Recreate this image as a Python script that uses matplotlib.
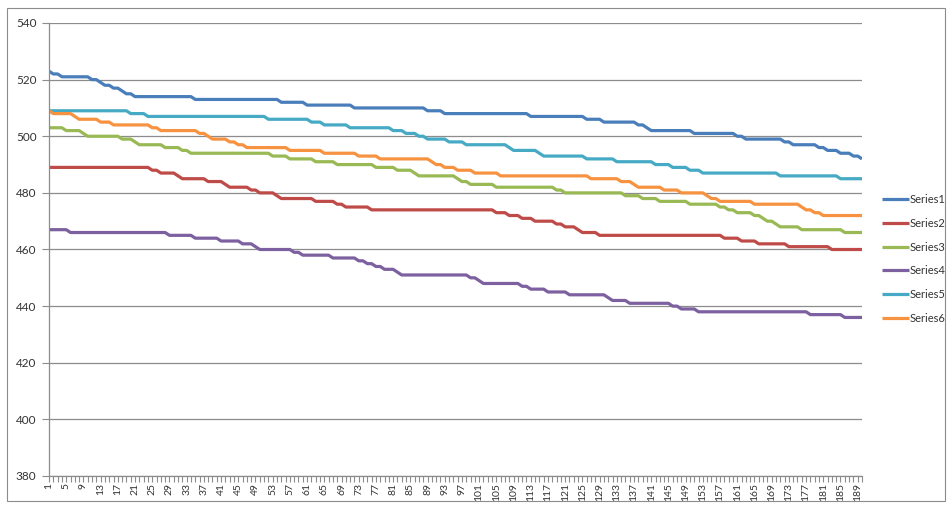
import numpy as np
import matplotlib
matplotlib.use("Agg")
import matplotlib.pyplot as plt

N_POINTS = 190
categories = np.arange(1, N_POINTS + 1)

# each series is stored as runs: the category where a level starts and the level itself
s1_start = [1, 2, 4, 11, 13, 14, 16, 18, 19, 21, 35, 55, 61, 72, 89, 93, 113, 126, 130, 138,
            140, 141, 151, 161, 163, 172, 174, 180, 182, 185, 188, 190]
s1_level = [523, 522, 521, 520, 519, 518, 517, 516, 515, 514, 513, 512, 511, 510, 509, 508, 507,
            506, 505, 504, 503, 502, 501, 500, 499, 498, 497, 496, 495, 494, 493, 492]

s2_start = [1, 25, 27, 31, 32, 38, 42, 43, 48, 50, 54, 55, 63, 68, 70, 76, 105, 108, 111, 114,
            119, 121, 124, 125, 129, 158, 162, 166, 173, 183]
s2_level = [489, 488, 487, 486, 485, 484, 483, 482, 481, 480, 479, 478, 477, 476, 475, 474, 473,
            472, 471, 470, 469, 468, 467, 466, 465, 464, 463, 462, 461, 460]

s3_start = [1, 5, 9, 10, 18, 21, 22, 28, 32, 34, 53, 57, 63, 68, 77, 82, 86, 87, 96, 97, 99, 105,
            119, 121, 135, 139, 143, 150, 157, 159, 161, 165, 167, 168, 170, 171, 176, 186]
s3_level = [503, 502, 501, 500, 499, 498, 497, 496, 495, 494, 493, 492, 491, 490, 489, 488, 487,
            486, 485, 484, 483, 482, 481, 480, 479, 478, 477, 476, 475, 474, 473, 472, 471, 470,
            469, 468, 467, 466]

s4_start = [1, 6, 29, 35, 41, 46, 49, 50, 58, 60, 67, 73, 75, 77, 79, 82, 83, 99, 101, 102, 111,
            113, 117, 122, 131, 132, 136, 146, 148, 152, 178, 186]
s4_level = [467, 466, 465, 464, 463, 462, 461, 460, 459, 458, 457, 456, 455, 454, 453, 452, 451,
            450, 449, 448, 447, 446, 445, 444, 443, 442, 441, 440, 439, 438, 437, 436]

s5_start = [1, 20, 24, 52, 62, 65, 71, 81, 84, 87, 89, 94, 98, 108, 109, 115, 116, 126, 133, 142,
            146, 150, 153, 171, 185]
s5_level = [509, 508, 507, 506, 505, 504, 503, 502, 501, 500, 499, 498, 497, 496, 495, 494, 493,
            492, 491, 490, 489, 488, 487, 486, 485]

s6_start = [1, 2, 7, 8, 13, 16, 25, 27, 36, 38, 39, 43, 45, 47, 57, 65, 73, 78, 90, 91, 93, 96,
            100, 106, 127, 134, 137, 138, 144, 148, 154, 155, 157, 165, 176, 177, 179, 181]
s6_level = [509, 508, 507, 506, 505, 504, 503, 502, 501, 500, 499, 498, 497, 496, 495, 494, 493,
            492, 491, 490, 489, 488, 487, 486, 485, 484, 483, 482, 481, 480, 479, 478, 477, 476,
            475, 474, 473, 472]

series_names = ["Series1", "Series2", "Series3", "Series4", "Series5", "Series6"]
series_colors = ["#4A7EBB", "#BE4B48", "#98B954", "#7D60A0", "#46AAC5", "#F69240"]
y_ticks = [380, 400, 420, 440, 460, 480, 500, 520, 540]


def expand_runs(starts, levels, n=N_POINTS):
    counts = np.diff(list(starts) + [n + 1])
    return np.repeat(levels, counts)


runs = [(s1_start, s1_level), (s2_start, s2_level), (s3_start, s3_level),
        (s4_start, s4_level), (s5_start, s5_level), (s6_start, s6_level)]

plt.rcParams["font.family"] = ["Lato", "DejaVu Sans"]

W, H = 951, 508
fig = plt.figure(figsize=(W / 100, H / 100), dpi=100)
ax = fig.add_axes([49 / W, (H - 476) / H, (862 - 49) / W, (476 - 23) / H])

for name, color, (st, lv) in zip(series_names, series_colors, runs):
    ax.plot(categories, expand_runs(st, lv), color=color, lw=2.3, label=name,
            solid_joinstyle="round", solid_capstyle="butt")

ax.set_xlim(1, N_POINTS)
ax.set_ylim(380, 540)
ax.set_yticks(y_ticks)
ax.yaxis.grid(True, color="#8C8C8C", lw=0.9)
ax.set_axisbelow(True)

ax.set_xticks(categories, minor=True)
ax.set_xticks(categories[::4])
ax.set_xticklabels([str(c) for c in categories[::4]], rotation=90, fontsize=7.5, color="#333333")
ax.tick_params(axis="x", which="both", length=4, color="#8C8C8C", width=0.8, pad=1)
ax.tick_params(axis="y", length=5, color="#8C8C8C", width=0.8, labelsize=8.5,
               labelcolor="#333333", pad=4)

for side in ("top", "right"):
    ax.spines[side].set_visible(False)
for side in ("left", "bottom"):
    ax.spines[side].set_color("#8C8C8C")
    ax.spines[side].set_linewidth(0.9)

leg = ax.legend(loc="upper left", bbox_to_anchor=(882 / W, (H - 194) / H),
                bbox_transform=fig.transFigure, frameon=False, fontsize=8,
                handlelength=2.4, handletextpad=0.1, labelspacing=1.15, borderpad=0,
                borderaxespad=0)
for t in leg.get_texts():
    t.set_color("#333333")

# chart area border
fig.patches.append(plt.Rectangle((7 / W, 7 / H), (945 - 7) / W, (500 - 7) / H,
                                 transform=fig.transFigure, fill=False,
                                 edgecolor="#8C8C8C", lw=0.8))

fig.savefig("out.png", dpi=100)
